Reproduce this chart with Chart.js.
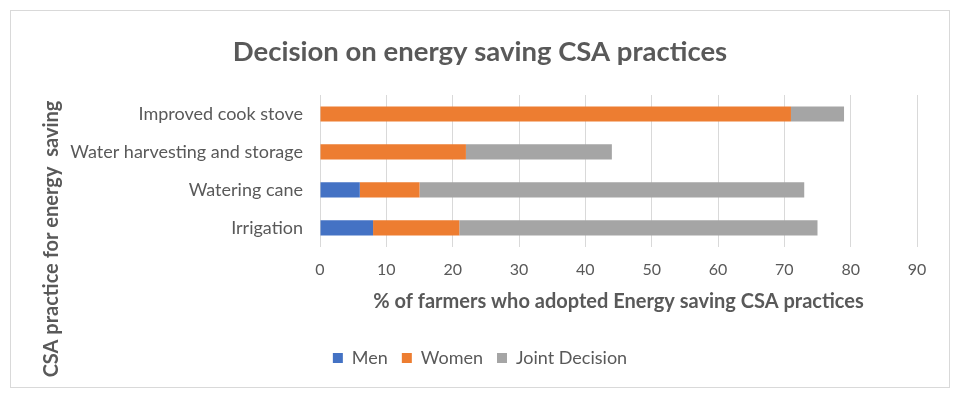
<!DOCTYPE html>
<html>
<head>
<meta charset="utf-8">
<script src="https://cdn.jsdelivr.net/npm/chart.js@4.4.1/dist/chart.umd.min.js"></script>
<style>
  html, body { margin: 0; padding: 0; background: #fff; }
  #wrap { width: 960px; height: 398px; }
</style>
</head>
<body>
<div id="wrap"><canvas id="chart"></canvas></div>
<script>
// data
const practices = ['Improved cook stove', 'Water harvesting and storage', 'Watering cane', 'Irrigation'];
const men = [0, 0, 6, 8];
const women = [71, 22, 9, 13];
const jointDecision = [8, 22, 58, 54];

const FONT = 'Lato';
const GREY_TEXT = '#595959';

// white background + thin frame, and the y axis title placed like in Excel
const framePlugin = {
  id: 'frame',
  beforeDraw(chart) {
    const ctx = chart.ctx;
    ctx.save();
    ctx.fillStyle = '#fff';
    ctx.fillRect(0, 0, chart.width, chart.height);
    ctx.strokeStyle = '#d9d9d9';
    ctx.lineWidth = 1;
    ctx.strokeRect(10.5, 10.5, chart.width - 21, chart.height - 21);
    ctx.restore();
  },
  afterDraw(chart) {
    const ctx = chart.ctx;
    ctx.save();
    ctx.translate(52, 239);
    ctx.rotate(-Math.PI / 2);
    ctx.font = 'bold 20px ' + FONT;
    ctx.fillStyle = GREY_TEXT;
    ctx.textAlign = 'center';
    ctx.textBaseline = 'middle';
    ctx.fillText('CSA practice for energy  saving', 0, 0);
    ctx.restore();
  }
};

new Chart(document.getElementById('chart'), {
  type: 'bar',
  data: {
    labels: practices,
    datasets: [
      { label: 'Men', data: men, backgroundColor: '#4472C4' },
      { label: 'Women', data: women, backgroundColor: '#ED7D31' },
      { label: 'Joint Decision', data: jointDecision, backgroundColor: '#A5A5A5' }
    ]
  },
  options: {
    indexAxis: 'y',
    responsive: true,
    maintainAspectRatio: false,
    animation: false,
    categoryPercentage: 0.5,
    barPercentage: 0.8,
    layout: { padding: { top: 10, left: 43, right: 43, bottom: 21 } },
    scales: {
      x: {
        stacked: true,
        min: 0,
        max: 90,
        ticks: { stepSize: 10, padding: 13, color: GREY_TEXT, font: { family: FONT, size: 16 } },
        grid: { color: '#d9d9d9', drawTicks: false },
        border: { display: false },
        title: {
          display: true,
          text: '% of farmers who adopted Energy saving CSA practices',
          color: GREY_TEXT,
          font: { family: FONT, size: 20, weight: 'bold' },
          padding: { top: -2, bottom: 21 }
        }
      },
      y: {
        stacked: true,
        ticks: { padding: 9, color: GREY_TEXT, font: { family: FONT, size: 18 } },
        grid: { display: false },
        border: { display: false },
        afterFit(scale) { scale.width = 320 - 43; }
      }
    },
    plugins: {
      title: {
        display: true,
        text: 'Decision on energy saving CSA practices',
        color: GREY_TEXT,
        font: { family: FONT, size: 27.5, weight: 'bold' },
        padding: { top: 25.5, bottom: 26.5 }
      },
      legend: {
        position: 'bottom',
        labels: { boxWidth: 10, boxHeight: 10, padding: 14, color: GREY_TEXT, font: { family: FONT, size: 18 } }
      },
      tooltip: { enabled: false }
    }
  },
  plugins: [framePlugin]
});
</script>
</body>
</html>
